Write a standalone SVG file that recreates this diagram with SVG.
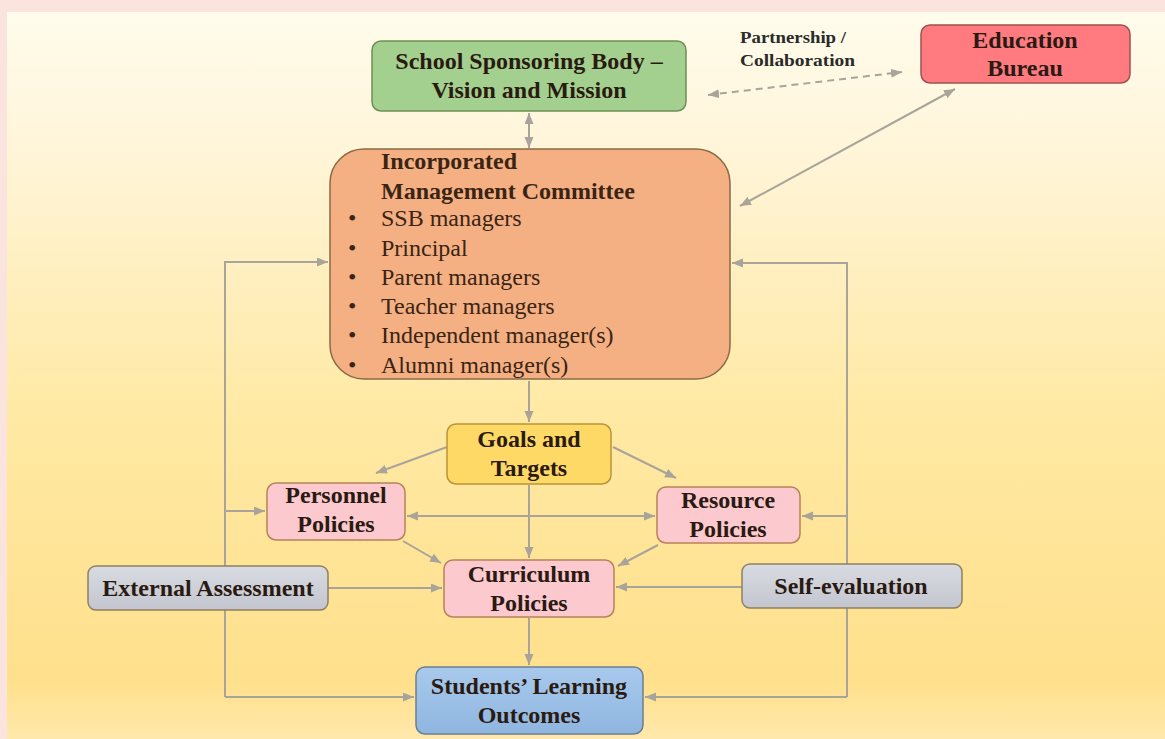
<svg xmlns="http://www.w3.org/2000/svg" width="1165" height="739" viewBox="0 0 1165 739">
  <defs>
    <linearGradient id="bg" x1="0" y1="0" x2="0" y2="1">
      <stop offset="0" stop-color="#fffcec"/>
      <stop offset="0.18" stop-color="#fff5da"/>
      <stop offset="0.55" stop-color="#ffe9a4"/>
      <stop offset="0.92" stop-color="#ffe08c"/>
      <stop offset="1" stop-color="#ffe8ab"/>
    </linearGradient>
    <linearGradient id="gray" x1="0" y1="0" x2="0" y2="1">
      <stop offset="0" stop-color="#d9dbe2"/>
      <stop offset="1" stop-color="#c3c6ce"/>
    </linearGradient>
    <linearGradient id="blue" x1="0" y1="0" x2="0" y2="1">
      <stop offset="0" stop-color="#a8c9ec"/>
      <stop offset="1" stop-color="#8fb6e0"/>
    </linearGradient>
    <marker id="arrow" markerUnits="userSpaceOnUse" markerWidth="12" markerHeight="10" refX="11" refY="4.5" orient="auto-start-reverse">
      <path d="M0,0 L11,4.5 L0,9 Z" fill="#a8a49a"/>
    </marker>
  </defs>
  <style>
    .t { font-family: "Liberation Serif", "Times New Roman", serif; font-weight: bold; font-size: 24px; fill: #2a1a12; text-anchor: middle; }
    .li { font-family: "Liberation Serif", "Times New Roman", serif; font-size: 24px; fill: #3a2414; }
    .hd { font-family: "Liberation Serif", "Times New Roman", serif; font-weight: bold; font-size: 24px; fill: #3a2414; }
    .sm { font-family: "Liberation Serif", "Times New Roman", serif; font-weight: bold; font-size: 17px; fill: #2a2a2a; }
    .c { fill: none; stroke: #a8a49a; stroke-width: 2; }
    .box { stroke-width: 1.5; }
  </style>

  <!-- page background -->
  <rect x="0" y="0" width="1165" height="739" fill="#fce4de"/>
  <rect x="7" y="12" width="1158" height="727" fill="url(#bg)"/>

  <!-- connectors -->
  <g id="connectors">
    <path class="c" d="M708,95 L902,72" stroke-dasharray="7 5" marker-start="url(#arrow)" marker-end="url(#arrow)"/>
    <path class="c" d="M740,206 L955,89" marker-start="url(#arrow)" marker-end="url(#arrow)"/>
    <path class="c" d="M529,113 L529,148" marker-start="url(#arrow)" marker-end="url(#arrow)"/>
    <path class="c" d="M529,381 L529,422" marker-end="url(#arrow)"/>
    <path class="c" d="M447,447 L376,473" marker-end="url(#arrow)"/>
    <path class="c" d="M613,447 L676,478" marker-end="url(#arrow)"/>
    <path class="c" d="M529,485 L529,558" marker-end="url(#arrow)"/>
    <path class="c" d="M407,516 L655,516" marker-start="url(#arrow)" marker-end="url(#arrow)"/>
    <path class="c" d="M403,541 L441,563" marker-end="url(#arrow)"/>
    <path class="c" d="M658,545 L618,566" marker-end="url(#arrow)"/>
    <path class="c" d="M529,618 L529,665" marker-end="url(#arrow)"/>
    <!-- left feedback loop -->
    <path class="c" d="M225,697 L225,262 L328,262" marker-end="url(#arrow)"/>
    <path class="c" d="M225,697 L414,697" marker-end="url(#arrow)"/>
    <path class="c" d="M225,511 L265,511" marker-end="url(#arrow)"/>
    <path class="c" d="M328,588 L442,588" marker-end="url(#arrow)"/>
    <!-- right feedback loop -->
    <path class="c" d="M847,697 L847,263 L732,263" marker-end="url(#arrow)"/>
    <path class="c" d="M847,697 L645,697" marker-end="url(#arrow)"/>
    <path class="c" d="M847,516 L802,516" marker-end="url(#arrow)"/>
    <path class="c" d="M742,587 L616,587" marker-end="url(#arrow)"/>
  </g>

  <text class="sm" x="740" y="43" textLength="106" lengthAdjust="spacingAndGlyphs">Partnership /</text>
  <text class="sm" x="740" y="66" textLength="115" lengthAdjust="spacingAndGlyphs">Collaboration</text>

  <g id="ssb">
    <rect class="box" x="372" y="41" width="314" height="70" rx="9" fill="#a3d08e" stroke="#6f8f55"/>
    <text class="t" x="529" y="69">School Sponsoring Body –</text>
    <text class="t" x="529" y="98">Vision and Mission</text>
  </g>

  <g id="edb">
    <rect class="box" x="921" y="25" width="209" height="58" rx="9" fill="#ff7b80" stroke="#a05050"/>
    <text class="t" x="1025" y="48" fill="#3e0c10">Education</text>
    <text class="t" x="1025" y="76" fill="#3e0c10">Bureau</text>
  </g>

  <g id="imc">
    <rect class="box" x="330" y="149" width="400" height="230" rx="34" fill="#f4b083" stroke="#8a6a45"/>
    <text class="hd" x="381" y="169">Incorporated</text>
    <text class="hd" x="381" y="199">Management Committee</text>
    <g class="li">
      <text x="348" y="226">•</text><text x="381" y="226">SSB managers</text>
      <text x="348" y="256">•</text><text x="381" y="256">Principal</text>
      <text x="348" y="285">•</text><text x="381" y="285">Parent managers</text>
      <text x="348" y="314">•</text><text x="381" y="314">Teacher managers</text>
      <text x="348" y="343">•</text><text x="381" y="343">Independent manager(s)</text>
      <text x="348" y="373">•</text><text x="381" y="373">Alumni manager(s)</text>
    </g>
  </g>

  <g id="goals">
    <rect class="box" x="447" y="424" width="164" height="60" rx="9" fill="#ffd966" stroke="#b8943a"/>
    <text class="t" x="529" y="447">Goals and</text>
    <text class="t" x="529" y="476">Targets</text>
  </g>

  <g id="personnel">
    <rect class="box" x="267" y="483" width="138" height="57" rx="9" fill="#fcc9cf" stroke="#b5825a"/>
    <text class="t" x="336" y="503">Personnel</text>
    <text class="t" x="336" y="532">Policies</text>
  </g>

  <g id="resource">
    <rect class="box" x="657" y="487" width="143" height="56" rx="9" fill="#fcc9cf" stroke="#b5825a"/>
    <text class="t" x="728" y="508">Resource</text>
    <text class="t" x="728" y="537">Policies</text>
  </g>

  <g id="curriculum">
    <rect class="box" x="444" y="560" width="170" height="57" rx="9" fill="#fcc9cf" stroke="#b5825a"/>
    <text class="t" x="529" y="582">Curriculum</text>
    <text class="t" x="529" y="611">Policies</text>
  </g>

  <g id="external">
    <rect class="box" x="88" y="566" width="240" height="44" rx="8" fill="url(#gray)" stroke="#8f8060"/>
    <text class="t" x="208" y="596">External Assessment</text>
  </g>

  <g id="self">
    <rect class="box" x="742" y="564" width="220" height="44" rx="8" fill="url(#gray)" stroke="#8f8060"/>
    <text class="t" x="851" y="594">Self-evaluation</text>
  </g>

  <g id="outcomes">
    <rect class="box" x="416" y="667" width="227" height="67" rx="9" fill="url(#blue)" stroke="#6a7f95"/>
    <text class="t" x="529" y="694">Students’ Learning</text>
    <text class="t" x="529" y="723">Outcomes</text>
  </g>
</svg>
